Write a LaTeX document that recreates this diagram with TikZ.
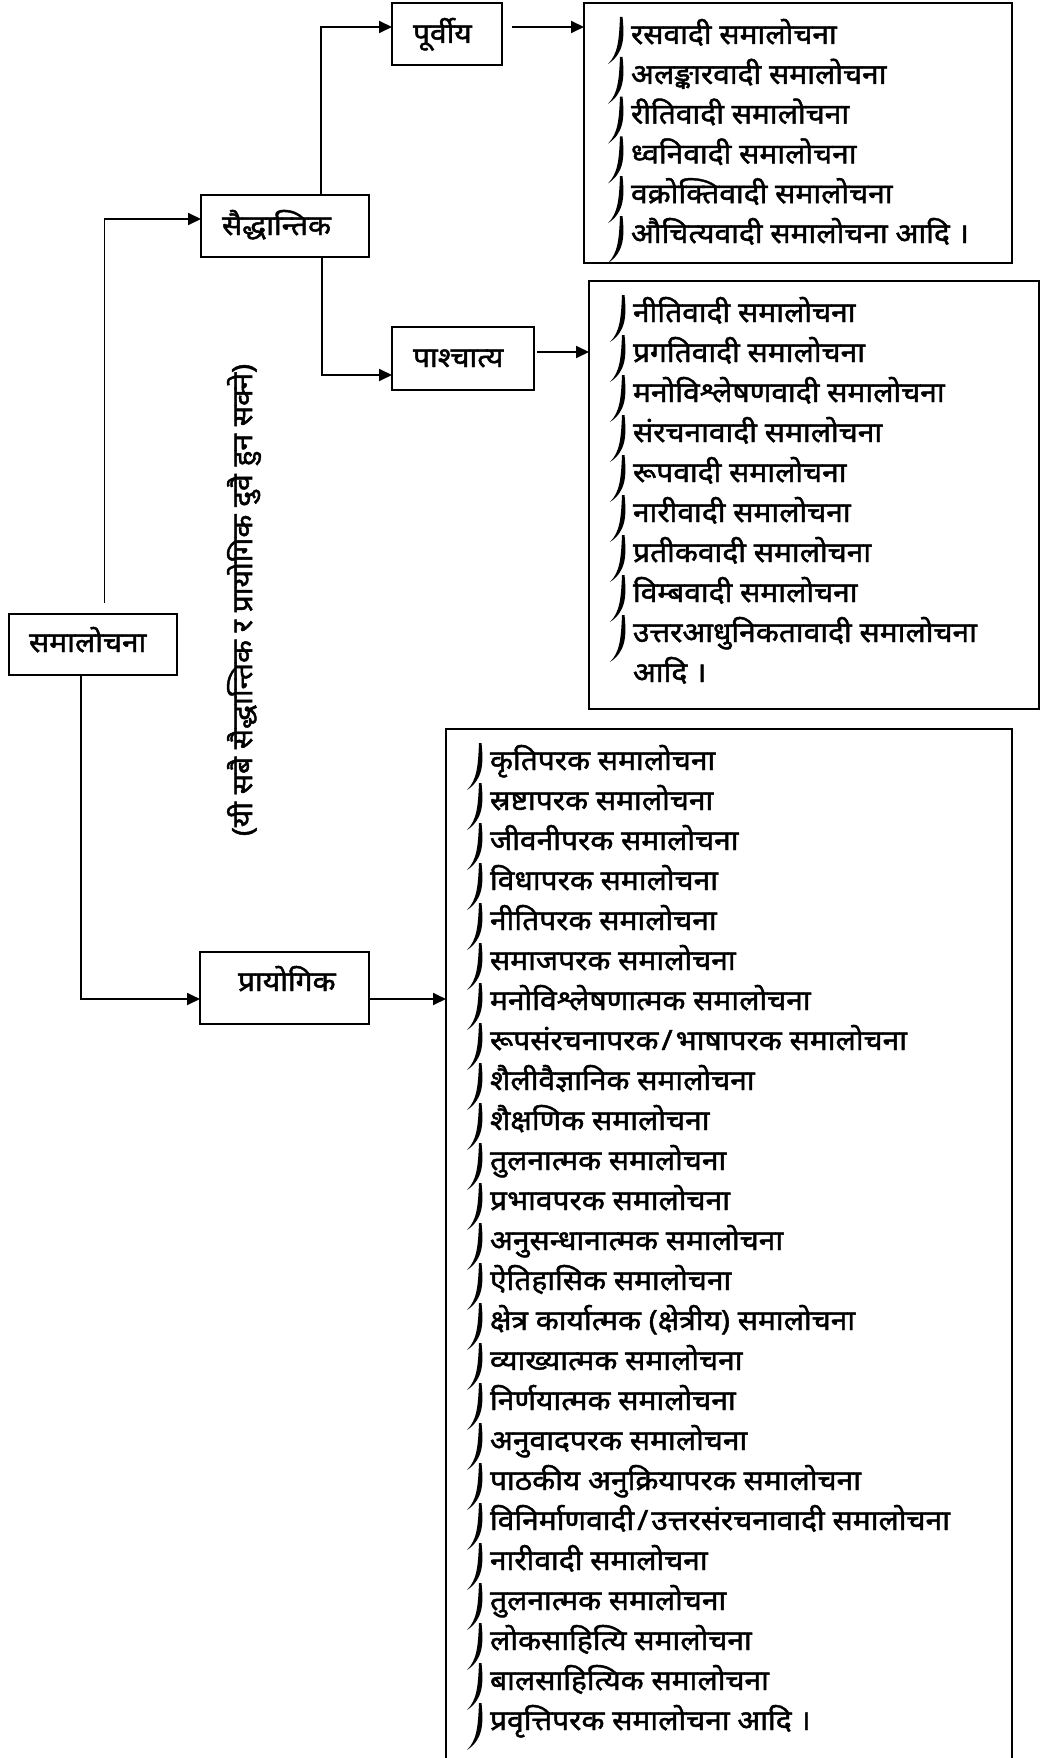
\documentclass[tikz,border=0pt]{standalone}
\usepackage{fontspec}
\newfontfamily\deva[Script=Devanagari,FakeBold=1.6,FakeStretch=1.07]{Noto Sans}
\usetikzlibrary{arrows.meta,calc}
\newcommand\dfont{\deva\fontsize{28}{34}\selectfont}
\newcommand\sls{\kern3pt/\kern3pt}
\tikzset{
  curvemark/.pic={\fill (-8.5,-27) .. controls (-6,-4) and (-8,10) .. (-23,20)
      .. controls (-13,10) and (-12,-4) .. (-11,-27) -- cycle;},
}
\begin{document}
\begin{tikzpicture}[x=1pt,y=-1pt,
  every node/.style={font=\dfont, inner sep=0pt, outer sep=0pt},
  box/.style={draw, line width=1.8pt},
  conn/.style={line width=1.8pt},
  arr/.style={conn, -{Triangle[length=13pt,width=12pt]}},
  item/.style={anchor=base west},
  lbl/.style={anchor=base west}]
\useasboundingbox (0,0) rectangle (1047,1758);
\clip (0,0) rectangle (1047,1758);

% boxes
\node[box, minimum width=168pt, minimum height=61pt] (sam) at (93,644.5) {};
\node[box, minimum width=168pt, minimum height=62pt] (sai) at (285,226) {};
\node[box, minimum width=110pt, minimum height=62pt] (pur) at (447,34) {};
\node[box, minimum width=142pt, minimum height=63pt] (pas) at (463,358.5) {};
\node[box, minimum width=169pt, minimum height=72pt] (pra) at (284.5,988) {};
\node[box, minimum width=428pt, minimum height=260pt] (L1) at (798,133) {};
\node[box, minimum width=450pt, minimum height=428pt] (L2) at (814,495) {};
\node[box, minimum width=566pt, minimum height=1046pt] (L3) at (729,1252) {};

% box labels
\node[lbl] (samT) at (29,652) {समालोचना};
\node[lbl] (saiT) at (222,235) {सैद्धान्तिक};
\node[lbl] (purT) at (413,43) {पूर्वीय};
\node[lbl] (pasT) at (413,367) {पाश्चात्य};
\node[lbl] (praT) at (238,991) {प्रायोगिक};

% vertical note
\node[rotate=90] (note) at (244,600) {(यी सबै सैद्धान्तिक र प्रायोगिक दुवै हुन सक्ने)};

% connectors
\coordinate (samTop) at (104.5,603);
\draw[arr] (samTop) |- ($(sai.west)+(0,-7)$);
\draw[arr] ($(sai.north)+(36,0)$) |- ($(pur.west)+(0,-7)$);
\draw[arr] ($(sai.south)+(37,0)$) |- ($(pas.west)+(0,16.5)$);
\draw[arr] ($(pur.east)+(10,-7)$) -- ($(L1.west |- pur.east)+(0,-7)$);
\draw[arr] ($(pas.east)+(3,-6.5)$) -- ($(L2.west |- pas.east)+(0,-6.5)$);
\draw[arr] ($(sam.south)+(-12,0)$) |- ($(pra.west)+(0,11)$);
\draw[arr] ($(pra.east)+(0,11)$) -- ($(L3.west |- pra.east)+(0,11)$);

% list 1
\foreach [count=\i from 0] \t in {%
रसवादी समालोचना,%
अलङ्कारवादी समालोचना,%
रीतिवादी समालोचना,%
ध्वनिवादी समालोचना,%
वक्रोक्तिवादी समालोचना,%
औचित्यवादी समालोचना आदि ।%
}{
  \node[item] (a\i) at (631,44+39.8*\i) {\t};
  \pic at (a\i.base west) {curvemark};
}

% list 2
\foreach [count=\i from 0] \t in {%
नीतिवादी समालोचना,%
प्रगतिवादी समालोचना,%
मनोविश्लेषणवादी समालोचना,%
संरचनावादी समालोचना,%
रूपवादी समालोचना,%
नारीवादी समालोचना,%
प्रतीकवादी समालोचना,%
विम्बवादी समालोचना,%
उत्तरआधुनिकतावादी समालोचना%
}{
  \node[item] (b\i) at (633,322+40*\i) {\t};
  \pic at (b\i.base west) {curvemark};
}
\node[item] (b9) at (633,682) {आदि ।};

% list 3
\foreach [count=\i from 0] \t in {%
कृतिपरक समालोचना,%
स्रष्टापरक समालोचना,%
जीवनीपरक समालोचना,%
विधापरक समालोचना,%
नीतिपरक समालोचना,%
समाजपरक समालोचना,%
मनोविश्लेषणात्मक समालोचना,%
रूपसंरचनापरक\sls भाषापरक समालोचना,%
शैलीवैज्ञानिक समालोचना,%
शैक्षणिक समालोचना,%
तुलनात्मक समालोचना,%
प्रभावपरक समालोचना,%
अनुसन्धानात्मक समालोचना,%
ऐतिहासिक समालोचना,%
क्षेत्र कार्यात्मक (क्षेत्रीय) समालोचना,%
व्याख्यात्मक समालोचना,%
निर्णयात्मक समालोचना,%
अनुवादपरक समालोचना,%
पाठकीय अनुक्रियापरक समालोचना,%
विनिर्माणवादी\sls उत्तरसंरचनावादी समालोचना,%
नारीवादी समालोचना,%
तुलनात्मक समालोचना,%
लोकसाहित्यि समालोचना,%
बालसाहित्यिक समालोचना,%
प्रवृत्तिपरक समालोचना आदि ।%
}{
  \node[item] (c\i) at (490,770+40*\i) {\t};
  \pic at (c\i.base west) {curvemark};
}
\end{tikzpicture}
\end{document}
